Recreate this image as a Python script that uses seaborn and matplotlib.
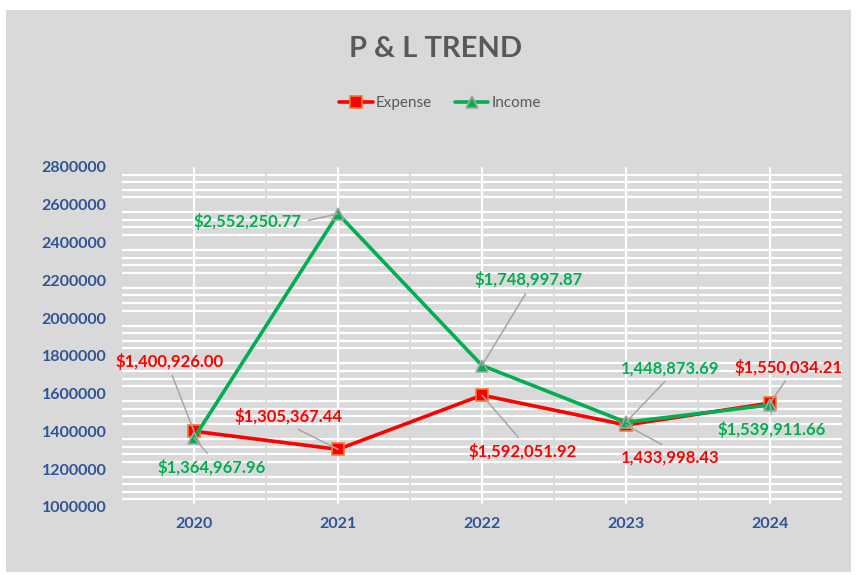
import matplotlib.pyplot as plt
import seaborn as sns
import pandas as pd
from matplotlib.patches import Rectangle

years = ['2020', '2021', '2022', '2023', '2024']
expense = [1400926.00, 1305367.44, 1592051.92, 1433998.43, 1550034.21]
income = [1364967.96, 2552250.77, 1748997.87, 1448873.69, 1539911.66]
expense_labels = ['$1,400,926.00', '$1,305,367.44', '$1,592,051.92', '1,433,998.43', '$1,550,034.21']
income_labels = ['$1,364,967.96', '$2,552,250.77', '$1,748,997.87', '1,448,873.69', '$1,539,911.66']

df = pd.DataFrame({
    'Year': years * 2,
    'Value': expense + income,
    'Series': ['Expense'] * 5 + ['Income'] * 5,
})

RED = '#ff0000'
GREEN = '#00b050'
BG = '#d9d9d9'

sns.set_theme(style='white')
plt.rcParams['font.family'] = ['Lato', 'DejaVu Sans']

fig = plt.figure(figsize=(8.56, 5.75), dpi=100, facecolor='white')
# gray chart area with thin white margin
fig.patches.append(Rectangle((6 / 856, 3 / 575), 845 / 856, 562 / 575,
                             transform=fig.transFigure, facecolor=BG,
                             edgecolor='none', zorder=-10))
ax = fig.add_axes([122 / 856, 68 / 575, 720 / 856, 340 / 575])
ax.set_facecolor(BG)

# excel-style gridlines: minor lines only, broken between categories
for v in range(1040000, 2800000, 40000):
    if v % 200000:
        ax.axhline(v, color='white', lw=1.6, zorder=1)
for i in range(5):
    ax.axvline(i, ymin=0.012, ymax=0.997, color='white', lw=1.6, zorder=1)
for i in range(4):
    ax.axvline(i + 0.5, color=BG, lw=1.3, zorder=1.5)

sns.lineplot(data=df, x='Year', y='Value', hue='Series', style='Series',
             palette={'Expense': RED, 'Income': GREEN},
             markers={'Expense': 's', 'Income': '^'}, dashes=False,
             linewidth=2.6, markersize=9, ax=ax, zorder=3, legend=False)

series_lines = [l for l in ax.lines if l.get_marker() in ('s', '^')]
series_lines[0].set_markeredgecolor('#ed7d31')
series_lines[0].set_markeredgewidth(1.2)
series_lines[1].set_markeredgecolor('#a5a5a5')
series_lines[1].set_markeredgewidth(1.2)

ax.set_xlim(-0.5, 4.5)
ax.set_ylim(1000000, 2800000)
ax.set_yticks(range(1000000, 2800001, 200000))
ax.ticklabel_format(axis='y', style='plain', useOffset=False)
ax.set_xlabel('')
ax.set_ylabel('')
sns.despine(ax=ax, left=True, bottom=True)
ax.tick_params(axis='both', length=0, labelcolor='#2f5597', labelsize=11.5)
ax.tick_params(axis='y', pad=11)
ax.tick_params(axis='x', pad=7)
for t in ax.get_xticklabels() + ax.get_yticklabels():
    t.set_fontweight('bold')

# data labels with leader lines (offsets in pixels)
exp_off = [(-24, 70), (-49, 33), (41, -56), (44, -32), (19, 36)]
inc_off = [(18, -29), (-90, -8), (47, 86), (44, 54), (2, -24)]


def label(i, val, text, off, color):
    dx, dy = off
    if abs(dx) > 60:
        rel = (1, 0.5) if dx < 0 else (0, 0.5)
    else:
        rel = (0.5, 0) if dy > 0 else (0.5, 1)
    ax.annotate(text, xy=(i, val), xytext=(dx, dy), textcoords='offset pixels',
                ha='center', va='center', fontsize=12, fontweight='bold',
                color=color, zorder=5,
                arrowprops=dict(arrowstyle='-', color='#a6a6a6', lw=1.1,
                                relpos=rel, shrinkA=2, shrinkB=0))


for i in range(5):
    label(i, expense[i], expense_labels[i], exp_off[i], RED)
    label(i, income[i], income_labels[i], inc_off[i], GREEN)

fig.text(436 / 856, 1 - 49 / 575, 'P & L TREND', ha='center', va='center',
         fontsize=21, fontweight='bold', color='#595959')
fig.legend(series_lines, ['Expense', 'Income'], loc='center',
           bbox_to_anchor=(440 / 856, 1 - 103 / 575), ncol=2, frameon=False,
           fontsize=11, labelcolor='#595959', handlelength=2.2,
           handletextpad=0.2, columnspacing=1.5)

fig.savefig('out.png', dpi=100, facecolor='white')
